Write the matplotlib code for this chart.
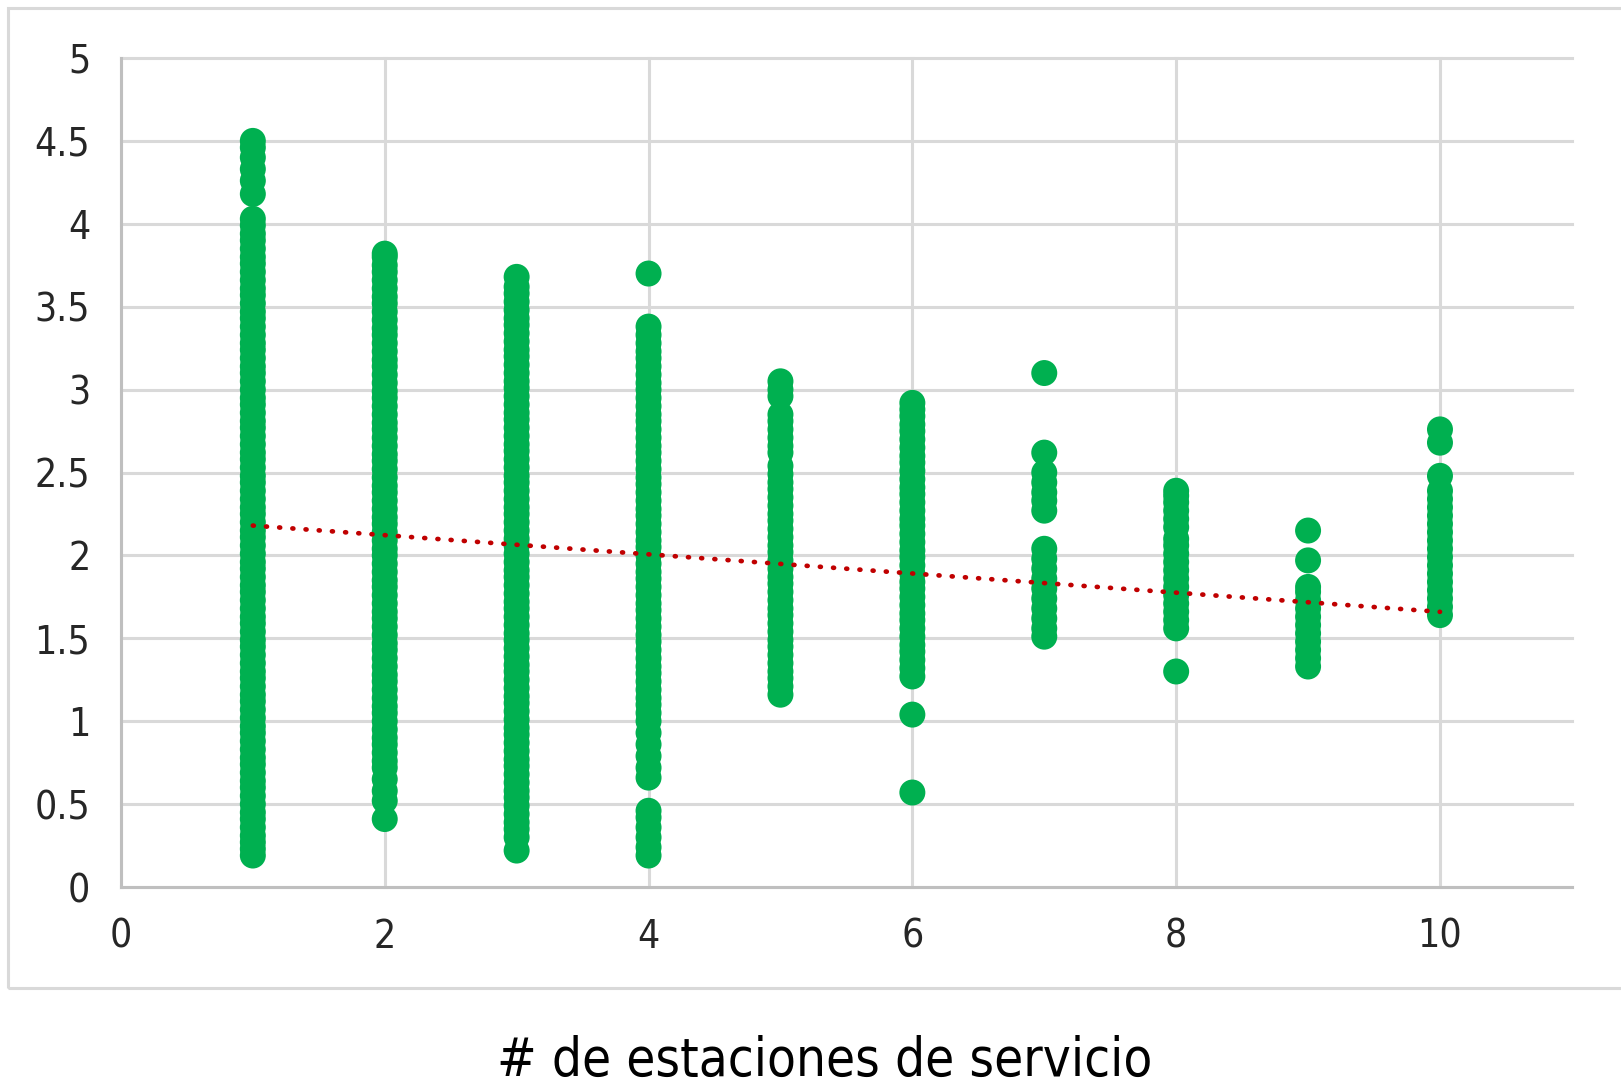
import numpy as np
import matplotlib
matplotlib.use("Agg")
import matplotlib.pyplot as plt
from matplotlib.patches import Rectangle
from matplotlib.ticker import FuncFormatter

# number of service stations (x) and observed values per station count (y)
stations = [1, 2, 3, 4, 5, 6, 7, 8, 9, 10]

vals_1 = [0.19, 0.23, 0.27, 0.31, 0.36, 0.41, 0.45, 0.5, 0.55, 0.6, 0.64, 0.69, 0.74, 0.78,
          0.83, 0.88, 0.93, 0.97, 1.02, 1.07, 1.12, 1.16, 1.21, 1.26, 1.3, 1.35, 1.4, 1.45,
          1.49, 1.54, 1.59, 1.63, 1.68, 1.73, 1.78, 1.82, 1.87, 1.92, 1.96, 2.01, 2.06, 2.11,
          2.15, 2.2, 2.25, 2.29, 2.34, 2.39, 2.44, 2.48, 2.53, 2.58, 2.62, 2.67, 2.72, 2.77,
          2.81, 2.86, 2.91, 2.95, 3.0, 3.05, 3.1, 3.14, 3.19, 3.24, 3.28, 3.33, 3.38, 3.43,
          3.47, 3.52, 3.57, 3.61, 3.66, 3.71, 3.76, 3.8, 3.85, 3.9, 3.94, 3.99, 4.03,
          4.18, 4.26, 4.33, 4.4, 4.46, 4.5]
vals_2 = [0.41, 0.52, 0.58, 0.65, 0.72, 0.76, 0.81, 0.86, 0.9, 0.95, 1.0, 1.05, 1.09, 1.14,
          1.19, 1.24, 1.28, 1.33, 1.38, 1.43, 1.47, 1.52, 1.57, 1.62, 1.66, 1.71, 1.76, 1.81,
          1.85, 1.9, 1.95, 2.0, 2.04, 2.09, 2.14, 2.19, 2.23, 2.28, 2.33, 2.38, 2.42, 2.47,
          2.52, 2.57, 2.61, 2.66, 2.71, 2.76, 2.8, 2.85, 2.9, 2.95, 2.99, 3.04, 3.09, 3.14,
          3.18, 3.23, 3.28, 3.33, 3.37, 3.42, 3.47, 3.52, 3.56, 3.61, 3.66, 3.71, 3.75, 3.8, 3.82]
vals_3 = [0.22, 0.3, 0.35, 0.39, 0.44, 0.49, 0.54, 0.58, 0.63, 0.68, 0.73, 0.77, 0.82, 0.87,
          0.92, 0.96, 1.01, 1.06, 1.11, 1.15, 1.2, 1.25, 1.3, 1.34, 1.39, 1.44, 1.49, 1.53,
          1.58, 1.63, 1.68, 1.72, 1.77, 1.82, 1.87, 1.91, 1.96, 2.01, 2.06, 2.1, 2.15, 2.2,
          2.25, 2.29, 2.34, 2.39, 2.44, 2.48, 2.53, 2.58, 2.63, 2.67, 2.72, 2.77, 2.82, 2.86,
          2.91, 2.96, 3.01, 3.05, 3.1, 3.15, 3.2, 3.24, 3.29, 3.34, 3.39, 3.43, 3.48, 3.53,
          3.58, 3.62, 3.68]
vals_4 = [0.19, 0.24, 0.3, 0.36, 0.42, 0.46, 0.66, 0.72, 0.79, 0.86, 0.93, 1.0, 1.05, 1.1,
          1.14, 1.19, 1.24, 1.29, 1.33, 1.38, 1.43, 1.48, 1.52, 1.57, 1.62, 1.67, 1.71, 1.76,
          1.81, 1.86, 1.9, 1.95, 2.0, 2.05, 2.09, 2.14, 2.19, 2.24, 2.28, 2.33, 2.38, 2.43,
          2.47, 2.52, 2.57, 2.62, 2.66, 2.71, 2.76, 2.81, 2.85, 2.9, 2.95, 3.0, 3.04, 3.09,
          3.14, 3.19, 3.23, 3.28, 3.33, 3.38, 3.7]
vals_5 = [1.16, 1.21, 1.26, 1.3, 1.35, 1.4, 1.45, 1.49, 1.54, 1.59, 1.64, 1.68, 1.73, 1.78,
          1.83, 1.87, 1.92, 1.97, 2.02, 2.06, 2.11, 2.16, 2.21, 2.25, 2.3, 2.35, 2.4, 2.44,
          2.49, 2.54, 2.62, 2.66, 2.71, 2.76, 2.81, 2.85, 2.96, 3.0, 3.05]
vals_6 = [0.57, 1.04, 1.27, 1.32, 1.37, 1.42, 1.46, 1.51, 1.56, 1.61, 1.65, 1.7, 1.75, 1.8,
          1.84, 1.89, 1.94, 1.99, 2.03, 2.08, 2.13, 2.18, 2.22, 2.27, 2.32, 2.37, 2.41, 2.46,
          2.51, 2.56, 2.6, 2.65, 2.7, 2.75, 2.79, 2.84, 2.88, 2.92]
vals_7 = [1.51, 1.56, 1.62, 1.68, 1.74, 1.8, 1.86, 1.92, 1.98, 2.04, 2.27, 2.33, 2.38, 2.44,
          2.5, 2.62, 3.1]
vals_8 = [1.3, 1.56, 1.61, 1.66, 1.71, 1.76, 1.81, 1.86, 1.91, 1.96, 2.01, 2.06, 2.1, 2.17,
          2.22, 2.27, 2.32, 2.36, 2.39]
vals_9 = [1.33, 1.38, 1.43, 1.48, 1.53, 1.58, 1.63, 1.68, 1.73, 1.78, 1.81, 1.97, 2.15]
vals_10 = [1.64, 1.69, 1.74, 1.79, 1.84, 1.89, 1.94, 1.99, 2.04, 2.09, 2.14, 2.19, 2.24,
           2.29, 2.34, 2.39, 2.48, 2.68, 2.76]
all_vals = [vals_1, vals_2, vals_3, vals_4, vals_5, vals_6, vals_7, vals_8, vals_9, vals_10]

# linear trend (slope, intercept)
trend_coef = [-0.0578, 2.2378]

xticks = [0, 2, 4, 6, 8, 10]
yticks = [0, 0.5, 1, 1.5, 2, 2.5, 3, 3.5, 4, 4.5, 5]
xlabel = "# de estaciones de servicio"

green = "#00B050"
red = "#C00000"
grid_col = "#d9d9d9"
font = ["Liberation Sans Narrow", "DejaVu Sans"]

fig = plt.figure(figsize=(16.21, 10.84), dpi=100)
ax = fig.add_axes([0.0746, 0.1817, 0.8951, 0.7648])

xs = np.concatenate([[s] * len(v) for s, v in zip(stations, all_vals)])
ys = np.concatenate(all_vals)
ax.scatter(xs, ys, s=350, color=green, edgecolors="none", zorder=3)

tx = np.array([stations[0], stations[-1]])
ax.plot(tx, np.polyval(trend_coef, tx), color=red, lw=3.4,
        linestyle=(0, (0.2, 2.6)), dash_capstyle="round", zorder=4)

ax.set_xlim(0, 11)
ax.set_ylim(0, 5)
ax.set_xticks(xticks)
ax.set_yticks(yticks)
ax.yaxis.set_major_formatter(FuncFormatter(lambda v, p: f"{v:g}"))
ax.grid(True, color=grid_col, linewidth=2.2, zorder=0)
ax.set_axisbelow(True)
for line in ax.get_ygridlines() + ax.get_xgridlines():
    line.set_clip_on(False)

for side in ["top", "right"]:
    ax.spines[side].set_visible(False)
for side in ["left", "bottom"]:
    ax.spines[side].set_color("#bfbfbf")
    ax.spines[side].set_linewidth(2.2)

ax.tick_params(axis="both", length=0, labelsize=28, labelcolor="#262626")
ax.tick_params(axis="y", pad=22)
ax.tick_params(axis="x", pad=22)
for lab in ax.get_xticklabels() + ax.get_yticklabels():
    lab.set_family(font)
    lab.set_fontstretch("condensed")

# light frame round the chart area
fig.patches.append(Rectangle((0.0049, 0.0886), 1.0, 0.9040, transform=fig.transFigure,
                             fill=False, edgecolor=grid_col, linewidth=2.2))

fig.text(0.509, 0.0075, xlabel, ha="center", va="baseline", fontsize=38,
         family=font, fontstretch="condensed", color="black")

fig.savefig("out.png", dpi=100)
